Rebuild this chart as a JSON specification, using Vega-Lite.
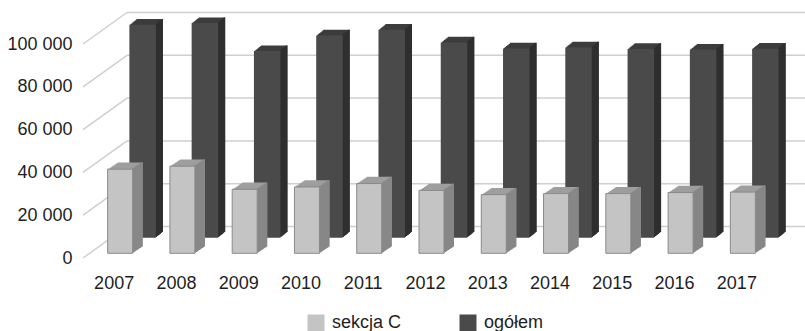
{
  "$schema": "https://vega.github.io/schema/vega-lite/v6.json",
  "width": 685,
  "height": 214,
  "autosize": {"type": "none"},
  "padding": {"left": 83, "top": 44, "right": 37, "bottom": 73},
  "background": "#ffffff",
  "datasets": {
    "dane": [
      {"rok": "2007", "seria": "sekcja C", "wartosc": 39300},
      {"rok": "2008", "seria": "sekcja C", "wartosc": 40700},
      {"rok": "2009", "seria": "sekcja C", "wartosc": 29900},
      {"rok": "2010", "seria": "sekcja C", "wartosc": 31000},
      {"rok": "2011", "seria": "sekcja C", "wartosc": 32600},
      {"rok": "2012", "seria": "sekcja C", "wartosc": 29400},
      {"rok": "2013", "seria": "sekcja C", "wartosc": 27400},
      {"rok": "2014", "seria": "sekcja C", "wartosc": 27900},
      {"rok": "2015", "seria": "sekcja C", "wartosc": 27900},
      {"rok": "2016", "seria": "sekcja C", "wartosc": 28400},
      {"rok": "2017", "seria": "sekcja C", "wartosc": 28600},
      {"rok": "2007", "seria": "ogółem", "wartosc": 99500},
      {"rok": "2008", "seria": "ogółem", "wartosc": 100300},
      {"rok": "2009", "seria": "ogółem", "wartosc": 87200},
      {"rok": "2010", "seria": "ogółem", "wartosc": 94500},
      {"rok": "2011", "seria": "ogółem", "wartosc": 97200},
      {"rok": "2012", "seria": "ogółem", "wartosc": 91200},
      {"rok": "2013", "seria": "ogółem", "wartosc": 88400},
      {"rok": "2014", "seria": "ogółem", "wartosc": 88900},
      {"rok": "2015", "seria": "ogółem", "wartosc": 88200},
      {"rok": "2016", "seria": "ogółem", "wartosc": 87900},
      {"rok": "2017", "seria": "ogółem", "wartosc": 88300}
    ],
    "siatka": [
      {"poziom": 0}, {"poziom": 20000}, {"poziom": 40000},
      {"poziom": 60000}, {"poziom": 80000}, {"poziom": 100000}
    ]
  },
  "config": {
    "view": {"stroke": null},
    "font": "Liberation Sans",
    "axis": {
      "labelFont": "Liberation Sans",
      "labelFontSize": 18,
      "labelColor": "#1e1e1e",
      "ticks": false,
      "domain": false,
      "grid": false
    },
    "axisY": {"labelPadding": 11},
    "axisX": {"labelAngle": 0, "labelPadding": 16},
    "legend": {
      "labelFont": "Liberation Sans",
      "labelFontSize": 18,
      "labelColor": "#1e1e1e"
    }
  },
  "layer": [
    {
      "data": {"name": "siatka"},
      "layer": [
        {
          "mark": {"type": "rule", "color": "#cfcfcf", "strokeWidth": 1.5, "xOffset": 44, "x2Offset": 140, "yOffset": -31.5, "y2Offset": -31.5},
          "encoding": {
            "x": {"datum": "2007", "type": "ordinal", "bandPosition": 0},
            "x2": {"datum": "2017"},
            "y": {
              "field": "poziom", "type": "quantitative",
              "scale": {"domain": [0, 100000], "nice": false, "zero": true},
              "axis": {"title": null, "values": [0, 20000, 40000, 60000, 80000, 100000], "labelExpr": "replace(format(datum.value, ','), ',', ' ')"}
            },
            "y2": {"field": "poziom"}
          }
        },
        {
          "mark": {"type": "rule", "color": "#cfcfcf", "strokeWidth": 1.5, "x2Offset": -49.4, "y2Offset": -31.5},
          "encoding": {
            "x": {"datum": "2007", "type": "ordinal", "bandPosition": 0},
            "x2": {"datum": "2008"},
            "y": {
              "field": "poziom", "type": "quantitative",
              "scale": {"domain": [0, 100000], "nice": false, "zero": true},
              "axis": {"title": null, "values": [0, 20000, 40000, 60000, 80000, 100000], "labelExpr": "replace(format(datum.value, ','), ',', ' ')"}
            },
            "y2": {"field": "poziom"}
          }
        }
      ]
    },
    {
      "data": {"name": "dane"},
      "encoding": {
        "x": {
          "field": "rok", "type": "ordinal",
          "scale": {"paddingInner": 0, "paddingOuter": 0},
          "axis": {"title": null}
        },
        "y": {
          "field": "wartosc", "type": "quantitative",
          "scale": {"domain": [0, 100000], "nice": false, "zero": true},
          "axis": {"title": null, "values": [0, 20000, 40000, 60000, 80000, 100000], "labelExpr": "replace(format(datum.value, ','), ',', ' ')"}
        },
        "y2": {"datum": 0}
      },
      "layer": [
        {
          "transform": [{"filter": "datum.seria === 'ogółem'"}],
          "layer": [
            {"mark": {"type": "bar", "width": 26.5, "color": "#3d3d3d", "xOffset": 35.5, "yOffset": -25.97, "y2Offset": -25.97}},
            {"mark": {"type": "bar", "width": 26.5, "color": "#3d3d3d", "xOffset": 34.5, "yOffset": -25.16, "y2Offset": -25.16}},
            {"mark": {"type": "bar", "width": 26.5, "color": "#3d3d3d", "xOffset": 33.5, "yOffset": -24.35, "y2Offset": -24.35}},
            {"mark": {"type": "bar", "width": 26.5, "color": "#3d3d3d", "xOffset": 32.5, "yOffset": -23.54, "y2Offset": -23.54}},
            {"mark": {"type": "bar", "width": 26.5, "color": "#3d3d3d", "xOffset": 31.5, "yOffset": -22.73, "y2Offset": -22.73}},
            {"mark": {"type": "bar", "width": 26.5, "color": "#3d3d3d", "xOffset": 30.5, "yOffset": -21.92, "y2Offset": -21.92}},
            {"mark": {"type": "bar", "width": 26.5, "color": "#3d3d3d", "xOffset": 29.5, "yOffset": -21.11, "y2Offset": -21.11}},
            {"mark": {"type": "bar", "width": 1.6, "color": "#2f2f2f", "xOffset": 41.95, "yOffset": -21.11, "y2Offset": -21.11}},
            {"mark": {"type": "bar", "width": 1.6, "color": "#2f2f2f", "xOffset": 42.95, "yOffset": -21.92, "y2Offset": -21.92}},
            {"mark": {"type": "bar", "width": 1.6, "color": "#2f2f2f", "xOffset": 43.95, "yOffset": -22.73, "y2Offset": -22.73}},
            {"mark": {"type": "bar", "width": 1.6, "color": "#2f2f2f", "xOffset": 44.95, "yOffset": -23.54, "y2Offset": -23.54}},
            {"mark": {"type": "bar", "width": 1.6, "color": "#2f2f2f", "xOffset": 45.95, "yOffset": -24.35, "y2Offset": -24.35}},
            {"mark": {"type": "bar", "width": 1.6, "color": "#2f2f2f", "xOffset": 46.95, "yOffset": -25.16, "y2Offset": -25.16}},
            {"mark": {"type": "bar", "width": 1.6, "color": "#2f2f2f", "xOffset": 47.95, "yOffset": -25.97, "y2Offset": -25.97}},
            {
              "mark": {"type": "bar", "width": 26.5, "xOffset": 28.5, "yOffset": -20.3, "y2Offset": -20.3},
              "encoding": {
                "color": {
                  "field": "seria", "type": "nominal",
                  "scale": {"domain": ["sekcja C", "ogółem"], "range": ["#c4c4c4", "#4a4a4a"]},
                  "legend": {"title": null, "orient": "none", "legendX": 224, "legendY": 270, "direction": "horizontal", "symbolType": "square", "symbolSize": 289, "symbolStrokeWidth": 0, "labelOffset": 7, "columnPadding": 57}
                }
              }
            }
          ]
        },
        {
          "transform": [{"filter": "datum.seria === 'sekcja C'"}],
          "layer": [
            {"mark": {"type": "bar", "width": 25, "color": "#9e9e9e", "xOffset": 16, "yOffset": -11.4, "y2Offset": -11.4}},
            {"mark": {"type": "bar", "width": 25, "color": "#9e9e9e", "xOffset": 15, "yOffset": -10.73, "y2Offset": -10.73}},
            {"mark": {"type": "bar", "width": 25, "color": "#9e9e9e", "xOffset": 14, "yOffset": -10.06, "y2Offset": -10.06}},
            {"mark": {"type": "bar", "width": 25, "color": "#9e9e9e", "xOffset": 13, "yOffset": -9.39, "y2Offset": -9.39}},
            {"mark": {"type": "bar", "width": 25, "color": "#9e9e9e", "xOffset": 12, "yOffset": -8.72, "y2Offset": -8.72}},
            {"mark": {"type": "bar", "width": 25, "color": "#9e9e9e", "xOffset": 11, "yOffset": -8.05, "y2Offset": -8.05}},
            {"mark": {"type": "bar", "width": 25, "color": "#9e9e9e", "xOffset": 10, "yOffset": -7.38, "y2Offset": -7.38}},
            {"mark": {"type": "bar", "width": 25, "color": "#9e9e9e", "xOffset": 9, "yOffset": -6.71, "y2Offset": -6.71}},
            {"mark": {"type": "bar", "width": 25, "color": "#9e9e9e", "xOffset": 8, "yOffset": -6.04, "y2Offset": -6.04}},
            {"mark": {"type": "bar", "width": 25, "color": "#9e9e9e", "xOffset": 7, "yOffset": -5.37, "y2Offset": -5.37}},
            {"mark": {"type": "bar", "width": 1.6, "color": "#878787", "xOffset": 18.7, "yOffset": -5.37, "y2Offset": -5.37}},
            {"mark": {"type": "bar", "width": 1.6, "color": "#878787", "xOffset": 19.7, "yOffset": -6.04, "y2Offset": -6.04}},
            {"mark": {"type": "bar", "width": 1.6, "color": "#878787", "xOffset": 20.7, "yOffset": -6.71, "y2Offset": -6.71}},
            {"mark": {"type": "bar", "width": 1.6, "color": "#878787", "xOffset": 21.7, "yOffset": -7.38, "y2Offset": -7.38}},
            {"mark": {"type": "bar", "width": 1.6, "color": "#878787", "xOffset": 22.7, "yOffset": -8.05, "y2Offset": -8.05}},
            {"mark": {"type": "bar", "width": 1.6, "color": "#878787", "xOffset": 23.7, "yOffset": -8.72, "y2Offset": -8.72}},
            {"mark": {"type": "bar", "width": 1.6, "color": "#878787", "xOffset": 24.7, "yOffset": -9.39, "y2Offset": -9.39}},
            {"mark": {"type": "bar", "width": 1.6, "color": "#878787", "xOffset": 25.7, "yOffset": -10.06, "y2Offset": -10.06}},
            {"mark": {"type": "bar", "width": 1.6, "color": "#878787", "xOffset": 26.7, "yOffset": -10.73, "y2Offset": -10.73}},
            {"mark": {"type": "bar", "width": 1.6, "color": "#878787", "xOffset": 27.7, "yOffset": -11.4, "y2Offset": -11.4}},
            {
              "mark": {"type": "bar", "width": 25, "xOffset": 6, "yOffset": -4.7, "y2Offset": -4.7, "stroke": "#8a8a8a", "strokeWidth": 1},
              "encoding": {
                "color": {"field": "seria", "type": "nominal"}
              }
            }
          ]
        }
      ]
    }
  ]
}
